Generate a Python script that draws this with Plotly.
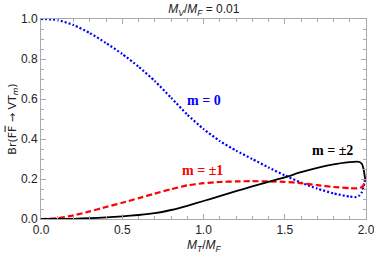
import plotly.graph_objects as go

x_vals = [0, 0.1, 0.2, 0.3, 0.4, 0.5, 0.6, 0.7, 0.8, 0.9, 1.0, 1.1, 1.2, 1.3, 1.4,
          1.5, 1.6, 1.7, 1.8, 1.9, 1.94, 1.96, 1.975, 1.985, 1.99, 1.995]
br_m0 = [1.0, 0.995, 0.97, 0.93, 0.88, 0.825, 0.762, 0.69, 0.607, 0.522, 0.45, 0.39,
         0.342, 0.3, 0.258, 0.218, 0.182, 0.152, 0.128, 0.112, 0.11, 0.118, 0.135,
         0.16, 0.18, 0.2]
br_m1 = [0, 0.004, 0.018, 0.038, 0.06, 0.081, 0.104, 0.127, 0.149, 0.168, 0.179, 0.185,
         0.188, 0.189, 0.188, 0.186, 0.179, 0.169, 0.16, 0.154, 0.153, 0.155, 0.16,
         0.17, 0.18, 0.2]
br_m2 = [0, 0, 0.001, 0.004, 0.008, 0.013, 0.02, 0.029, 0.045, 0.066, 0.09, 0.114,
         0.139, 0.163, 0.186, 0.208, 0.234, 0.256, 0.273, 0.284, 0.287, 0.285, 0.275,
         0.25, 0.225, 0.2]

x_ticks = [0.0, 0.5, 1.0, 1.5, 2.0]
y_ticks = [0.0, 0.2, 0.4, 0.6, 0.8, 1.0]

fig = go.Figure()
fig.add_trace(go.Scatter(x=x_vals, y=br_m0, mode="lines",
                         line=dict(color="#0000FF", width=2.2, dash="2px,2px", shape="spline", smoothing=0.5)))
fig.add_trace(go.Scatter(x=x_vals, y=br_m1, mode="lines",
                         line=dict(color="#FF0000", width=2.2, dash="6px,3px", shape="spline", smoothing=0.5)))
fig.add_trace(go.Scatter(x=x_vals, y=br_m2, mode="lines",
                         line=dict(color="#000000", width=1.8, shape="spline", smoothing=0.5)))

ann_font = dict(family="Liberation Serif", size=14)
fig.add_annotation(x=1.0, y=0.595, text="<b>m = 0</b>", showarrow=False, font=dict(color="#0000FF", **ann_font))
fig.add_annotation(x=0.995, y=0.245, text="<b>m = ±1</b>", showarrow=False, font=dict(color="#FF0000", **ann_font))
fig.add_annotation(x=1.795, y=0.345, text="<b>m = ±2</b>", showarrow=False, font=dict(color="#000000", **ann_font))

# x-axis title placed just below tick labels
fig.add_annotation(x=0.5, y=-0.135, xref="paper", yref="paper", xanchor="center", yanchor="middle",
                   text="<i>M</i><sub><i>T</i></sub>/<i>M</i><sub><i>F</i></sub>", showarrow=False,
                   font=dict(family="Liberation Sans", size=12, color="#222222"))

axis_common = dict(
    showline=True, linecolor="#AAAAAA", linewidth=1, mirror="allticks",
    ticks="inside", ticklen=5, tickcolor="#AAAAAA", tickwidth=1,
    showgrid=False, zeroline=False,
    tickfont=dict(family="Liberation Sans", size=12, color="#222222"),
    ticklabeloverflow="allow",
)

fig.update_xaxes(range=[0, 2.0], tickvals=x_ticks, ticktext=[f"{v:.1f}" for v in x_ticks],
                 minor=dict(dtick=0.1, ticks="inside", ticklen=3, tickcolor="#AAAAAA"),
                 **axis_common)
fig.update_yaxes(range=[0, 1.0], tickvals=y_ticks, ticktext=[f"{v:.1f}" for v in y_ticks],
                 minor=dict(dtick=0.05, ticks="inside", ticklen=3, tickcolor="#AAAAAA"),
                 title=dict(text="Br(F<span style='text-decoration:overline'>F</span> \u2192 VT<sub><i>m</i></sub>)",
                            font=dict(family="DejaVu Sans", size=11, color="#222222"), standoff=2),
                 **axis_common)

fig.update_layout(
    width=374, height=256,
    margin=dict(l=41, r=8, t=19, b=37, autoexpand=False),
    paper_bgcolor="white", plot_bgcolor="white",
    showlegend=False,
    title=dict(text="<i>M</i><sub><i>V</i></sub>/<i>M</i><sub><i>F</i></sub> = 0.01",
               x=0.545, xanchor="center", y=0.965, yanchor="middle",
               font=dict(family="Liberation Sans", size=12, color="#222222")),
)

fig.write_html("out.html", config={"displayModeBar": False},
               post_script="document.body.style.margin='0px';")
